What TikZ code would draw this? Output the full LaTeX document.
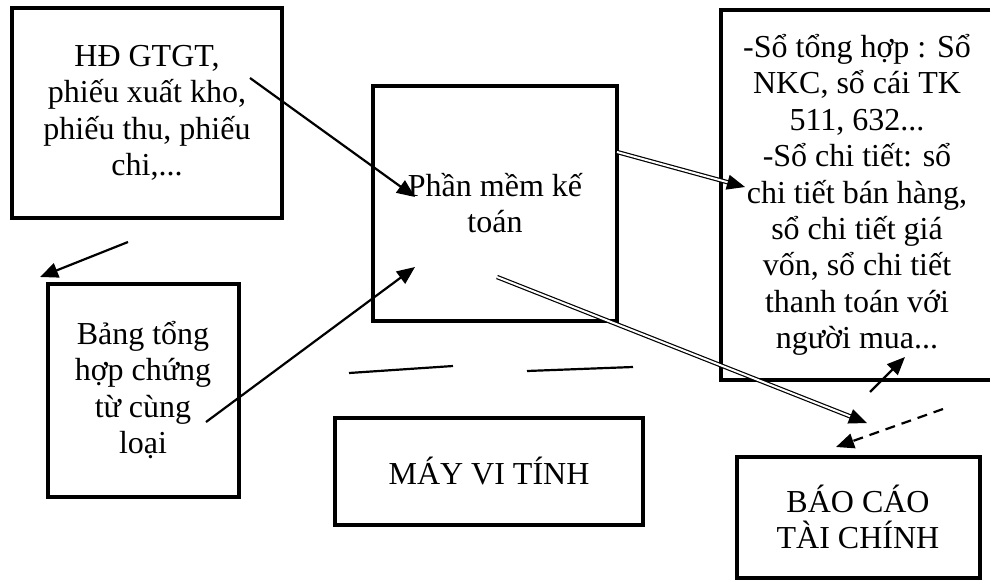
\documentclass[tikz,border=0pt]{standalone}
\usepackage{fontspec}
\setmainfont{Liberation Serif}
\usetikzlibrary{arrows.meta}

\tikzset{
  khung/.style = {draw, line width=4pt, align=center, inner sep=0pt,
    font=\fontsize{32}{36.4}\selectfont},
  muiten/.style = {line width=2.2pt, -{Triangle[length=18pt,width=15pt]}},
  muitenkep/.style = {double, double distance=2pt, line width=1.2pt,
    -{Triangle[length=18pt,width=15pt]}},
  net/.style = {line width=2.2pt},
}

\begin{document}
\begin{tikzpicture}[x=1pt, y=-1pt]
    \useasboundingbox (0,0) rectangle (990,581);

    \node[khung, minimum width=270pt, minimum height=210pt] (chungtu) at (147,113)
      {HĐ GTGT,\\phiếu xuất kho,\\phiếu thu, phiếu\\chi,...};
    \node[khung, minimum width=191pt, minimum height=213pt] (bangth) at (143,390)
      {Bảng tổng\\hợp chứng\\từ cùng\\loại};
    \node[khung, minimum width=244pt, minimum height=235pt] (phanmem) at (495,203)
      {Phần mềm kế\\toán};
    \node[khung, minimum width=272pt, minimum height=370pt] (soketoan) at (857,195)
      {-Sổ tổng hợp : Sổ\\NKC, sổ cái TK\\511, 632...\\-Sổ chi tiết: sổ\\chi tiết bán hàng,\\sổ chi tiết giá\\vốn, sổ chi tiết\\thanh toán với\\người mua...};
    \node[khung, minimum width=308pt, minimum height=107pt] (mayvitinh) at (489,471)
      {MÁY VI TÍNH};
    \node[khung, minimum width=243pt, minimum height=121pt] (baocao) at (858,517)
      {BÁO CÁO\\TÀI CHÍNH};

    \coordinate (p1) at (250,78);
    \coordinate (q1) at (415,197);
    \coordinate (p2) at (128,242);
    \coordinate (q2) at (40,277);
    \coordinate (p3) at (206,422);
    \coordinate (q3) at (415,267);
    \coordinate (p4) at (617,152);
    \coordinate (q4) at (745,187);
    \coordinate (p5) at (497,277);
    \coordinate (q5) at (867,423);
    \coordinate (p6) at (870,392);
    \coordinate (q6) at (905,357);
    \coordinate (p7) at (943,409);
    \coordinate (q7) at (836,447);
    \coordinate (m1) at (349,373);
    \coordinate (n1) at (453,366);
    \coordinate (m2) at (527,371);
    \coordinate (n2) at (633,367);

    \draw[muiten] (p1) -- (q1);
    \draw[muiten] (p2) -- (q2);
    \draw[muiten] (p3) -- (q3);
    \draw[muitenkep] (p4) -- (q4);
    \draw[muitenkep] (p5) -- (q5);
    \draw[muiten] (p6) -- (q6);
    \draw[muiten, dashed, dash pattern=on 10pt off 7pt] (p7) -- (q7);
    \draw[net] (m1) -- (n1);
    \draw[net] (m2) -- (n2);
\end{tikzpicture}
\end{document}
